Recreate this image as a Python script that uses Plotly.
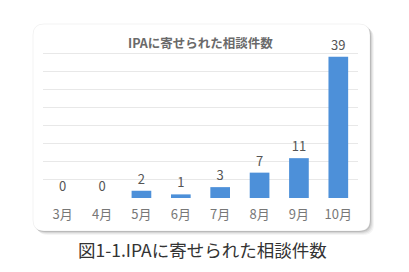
import plotly.graph_objects as go

months = ["3月", "4月", "5月", "6月", "7月", "8月", "9月", "10月"]
counts = [0, 0, 2, 1, 3, 7, 11, 39]
chart_title = "IPAに寄せられた相談件数"
caption = "図1-1.IPAに寄せられた相談件数"

W, H = 409, 272
FONT = "Noto Sans CJK JP"

def px_x(x):
    return x / W

def px_y(y):
    return 1 - y / H

def rounded_rect(x0, y0, x1, y1, r):
    X0, X1 = px_x(x0), px_x(x1)
    Y0, Y1 = px_y(y1), px_y(y0)
    rx, ry = r / W, r / H
    return (f"M {X0+rx},{Y1} L {X1-rx},{Y1} Q {X1},{Y1} {X1},{Y1-ry} "
            f"L {X1},{Y0+ry} Q {X1},{Y0} {X1-rx},{Y0} L {X0+rx},{Y0} "
            f"Q {X0},{Y0} {X0},{Y0+ry} L {X0},{Y1-ry} Q {X0},{Y1} {X0+rx},{Y1} Z")

shapes = []
for off, op in [(4, 0.06), (3, 0.08), (2, 0.12), (1, 0.18)]:
    shapes.append(dict(type="path", xref="paper", yref="paper",
                       path=rounded_rect(33 + off, 24 + off, 370 + off, 231 + off, 11),
                       fillcolor=f"rgba(90,90,90,{op})", line=dict(width=0), layer="below"))
shapes.append(dict(type="path", xref="paper", yref="paper",
                   path=rounded_rect(33, 24, 370, 231, 11),
                   fillcolor="white", line=dict(color="rgba(0,0,0,0.05)", width=1), layer="below"))

fig = go.Figure()
fig.add_trace(go.Bar(
    x=months, y=counts,
    marker=dict(color="#4d90d9", line=dict(width=0)),
    width=0.5,
    text=[str(v) for v in counts],
    textposition="outside",
    textfont=dict(family=FONT, size=13, color="#555555"),
    cliponaxis=False,
))

fig.update_layout(
    width=W, height=H,
    margin=dict(l=0, r=0, t=0, b=0),
    paper_bgcolor="white", plot_bgcolor="rgba(0,0,0,0)",
    showlegend=False,
    shapes=shapes,
    xaxis=dict(domain=[px_x(43), px_x(358)], showgrid=False, zeroline=False,
               showline=False, ticks="", ticklabelstandoff=7,
               tickfont=dict(family=FONT, size=13, color="#777777")),
    yaxis=dict(domain=[px_y(198), px_y(35)], range=[0, 45], dtick=5,
               showgrid=True, gridcolor="#e8e8e8", gridwidth=1,
               zeroline=False, showticklabels=False, showline=False),
    annotations=[
        dict(text=chart_title, xref="paper", yref="paper", x=px_x(200), y=px_y(42),
             xanchor="center", yanchor="middle", showarrow=False,
             font=dict(family=FONT, size=12.5, color="#6a6a6a", weight="bold")),
        dict(text=caption, xref="paper", yref="paper", x=px_x(202), y=px_y(249),
             xanchor="center", yanchor="middle", showarrow=False,
             font=dict(family=FONT, size=17.5, color="#333333")),
    ],
)

fig.write_html("out.html")
